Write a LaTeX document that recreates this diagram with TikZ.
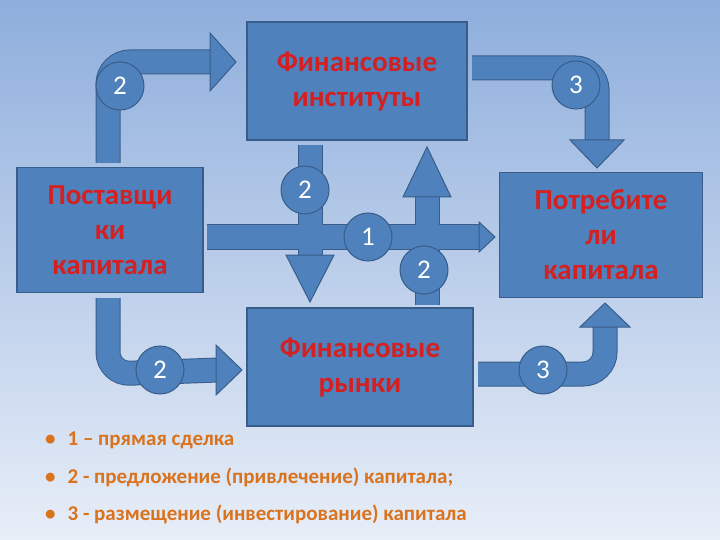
\documentclass[tikz,border=0pt]{standalone}
\usepackage{fontspec}
\setmainfont{Carlito}
\usetikzlibrary{shadows}
\definecolor{bx}{HTML}{4F81BD}
\definecolor{bd}{HTML}{385D8A}
\definecolor{rd}{HTML}{D42020}
\definecolor{og}{HTML}{D9731E}
\begin{document}
\begin{tikzpicture}[x=1pt,y=-1pt,
  box/.style={draw=bd,line width=1.2pt,fill=bx,inner sep=0pt,align=center,text=rd,font=\fontsize{29}{35}\selectfont\bfseries},
  num/.style={circle,draw=bd,line width=1pt,fill=bx,minimum size=48pt,inner sep=0pt,text=white,font=\fontsize{27}{27}\selectfont},
  shaft/.style={draw=bd,line width=25pt,rounded corners=22pt},
  shafti/.style={draw=bx,line width=23pt,rounded corners=22pt},
  head/.style={fill=bx,draw=bd,line width=1pt,line join=miter}]
\shade[top color={rgb,255:red,142;green,174;blue,220},bottom color={rgb,255:red,232;green,238;blue,248}] (0,0) rectangle (720,540);
\useasboundingbox (0,0) rectangle (720,540);
% boxes
\node[box,minimum width=220pt,minimum height=118pt] (fi) at (357,81) {Финансовые\\институты};
\node[box,minimum width=186pt,minimum height=125pt] (ps) at (110,230) {Поставщи\\ки\\капитала};
\node[box,minimum width=203pt,minimum height=125pt] (pt) at (601,235) {Потребите\\ли\\капитала};
\node[box,minimum width=226pt,minimum height=118pt] (fr) at (360,367) {Финансовые\\рынки};
% coordinates
\coordinate (a1) at (108,163); \coordinate (a1t) at (212,62);
\coordinate (a2) at (472,68); \coordinate (a2t) at (597,140);
\coordinate (a3) at (310,145); \coordinate (a3t) at (310,255);
\coordinate (a4) at (207,237); \coordinate (a4t) at (480,237);
\coordinate (a5) at (427,305); \coordinate (a5t) at (427,195);
\coordinate (a6) at (108,298); \coordinate (a6t) at (218,370);
\coordinate (a7) at (478,374); \coordinate (a7t) at (605,325);
% shafts
\foreach \p in {shaft,shafti}{
 \draw[\p] (a1) -- (108,62) -- (a1t);
 \draw[\p] (a2) -- (597,68) -- (a2t);
 \draw[\p] (a3) -- (a3t);
 \draw[\p] (a4) -- (a4t);
 \draw[\p] (a5) -- (a5t);
 \draw[\p] (a6) -- (108,374) -- (a6t);
 \draw[\p] (a7) -- (605,374) -- (a7t);
}
% heads
\draw[head] (210,33) -- (236,62) -- (210,91) -- cycle;
\draw[head] (570,140) -- (597,168) -- (624,140) -- cycle;
\draw[head] (286,255) -- (310,302) -- (334,255) -- cycle;
\draw[head] (479,222) -- (495,237) -- (479,252) -- cycle;
\draw[head] (403,197) -- (427,147) -- (451,197) -- cycle;
\draw[head] (216,345) -- (242,370) -- (216,395) -- cycle;
\draw[head] (580,327) -- (605,303) -- (630,327) -- cycle;
% numbers
\node[num] (n1) at (120,86) {2};
\node[num] (n2) at (576,85) {3};
\node[num] (n3) at (305,190) {2};
\node[num] (n4) at (368,237) {1};
\node[num] (n5) at (424,270) {2};
\node[num] (n6) at (160,370) {2};
\node[num] (n7) at (543,370) {3};
% bullets
\begin{scope}[every node/.style={anchor=west,text=og,font=\fontsize{21}{21}\selectfont\bfseries,inner sep=0pt}]
\node (b1) at (45,440) {\textbullet\hspace{12pt}1 – прямая сделка};
\node (b2) at (45,477) {\textbullet\hspace{12pt}2 - предложение (привлечение) капитала;};
\node (b3) at (45,514) {\textbullet\hspace{12pt}3 - размещение (инвестирование) капитала};
\end{scope}
\end{tikzpicture}
\end{document}
